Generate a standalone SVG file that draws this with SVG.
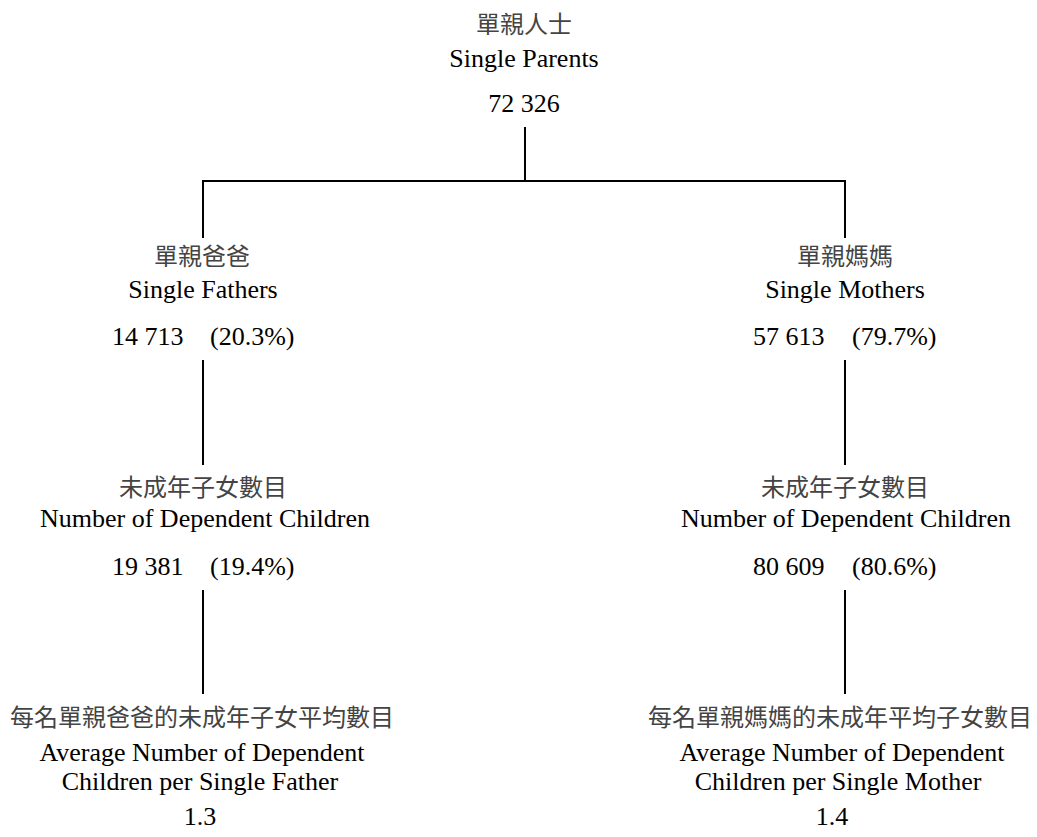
<svg xmlns="http://www.w3.org/2000/svg" width="1037" height="837" viewBox="0 0 1037 837">
<style>
.zh{font-family:"Noto Sans CJK TC","Noto Sans CJK SC",sans-serif;font-size:24px;fill:#444;text-anchor:middle}
.en{font-family:"Times New Roman","Liberation Serif","DejaVu Serif",serif;font-size:26px;fill:#000;text-anchor:middle}
.num{font-family:"Times New Roman","Liberation Serif","DejaVu Serif",serif;font-size:26px;fill:#000}
.ln{stroke:#000;stroke-width:2;fill:none}
</style>
<rect width="1037" height="837" fill="#fff"/>
<g id="connectors">
<line class="ln" x1="525" y1="127" x2="525" y2="181"/>
<line class="ln" x1="202" y1="181" x2="846" y2="181"/>
<line class="ln" x1="203" y1="181" x2="203" y2="238"/>
<line class="ln" x1="845" y1="181" x2="845" y2="238"/>
<line class="ln" x1="203" y1="360" x2="203" y2="465"/>
<line class="ln" x1="845" y1="360" x2="845" y2="465"/>
<line class="ln" x1="203" y1="590" x2="203" y2="694"/>
<line class="ln" x1="845" y1="590" x2="845" y2="694"/>
</g>
<g id="node-single-parents">
<text class="zh" x="524" y="33">單親人士</text>
<text class="en" x="524" y="67">Single Parents</text>
<text class="en" x="524" y="112">72 326</text>
</g>
<g id="node-single-fathers">
<text class="zh" x="202" y="265">單親爸爸</text>
<text class="en" x="203" y="298">Single Fathers</text>
<text class="num" x="112" y="345">14 713</text>
<text class="num" x="210" y="345">(20.3%)</text>
</g>
<g id="node-single-mothers">
<text class="zh" x="845" y="265">單親媽媽</text>
<text class="en" x="845" y="298">Single Mothers</text>
<text class="num" x="753" y="345">57 613</text>
<text class="num" x="852" y="345">(79.7%)</text>
</g>
<g id="node-children-fathers">
<text class="zh" x="203" y="496">未成年子女數目</text>
<text class="en" x="205" y="527">Number of Dependent Children</text>
<text class="num" x="112" y="575">19 381</text>
<text class="num" x="210" y="575">(19.4%)</text>
</g>
<g id="node-children-mothers">
<text class="zh" x="845" y="496">未成年子女數目</text>
<text class="en" x="846" y="527">Number of Dependent Children</text>
<text class="num" x="753" y="575">80 609</text>
<text class="num" x="852" y="575">(80.6%)</text>
</g>
<g id="node-avg-fathers">
<text class="zh" x="202" y="726">每名單親爸爸的未成年子女平均數目</text>
<text class="en" x="202" y="761">Average Number of Dependent</text>
<text class="en" x="200" y="790">Children per Single Father</text>
<text class="en" x="200" y="825">1.3</text>
</g>
<g id="node-avg-mothers">
<text class="zh" x="840" y="726">每名單親媽媽的未成年平均子女數目</text>
<text class="en" x="842" y="761">Average Number of Dependent</text>
<text class="en" x="838" y="790">Children per Single Mother</text>
<text class="en" x="832" y="825">1.4</text>
</g>
</svg>
